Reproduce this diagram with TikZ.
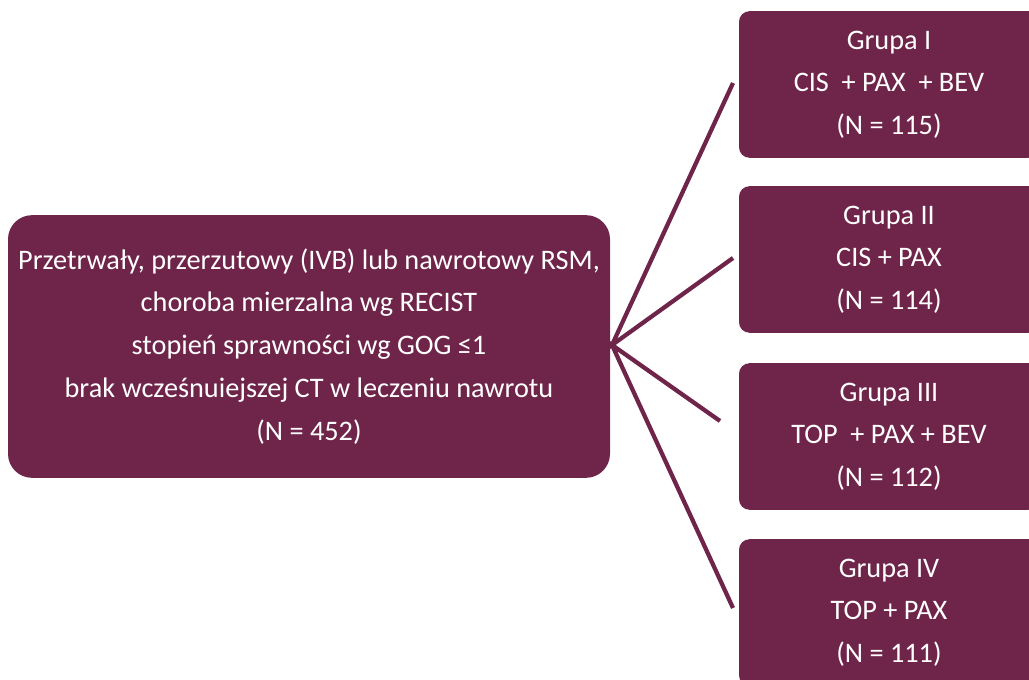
\documentclass[tikz,border=0pt]{standalone}
\usepackage{fontspec}
\setmainfont{Carlito}
\definecolor{maroon}{HTML}{6F2549}
\begin{document}
\begin{tikzpicture}[x=0.75pt,y=-0.75pt,
  box/.style={fill=maroon,text=white,align=center,inner sep=0pt},
  lbox/.style={box,rounded corners=18pt,minimum width=451.5pt,minimum height=197pt,
    font=\fontsize{21.2}{32.2}\selectfont},
  rbox/.style={box,rounded corners=8pt,minimum width=225pt,minimum height=110pt,
    font=\fontsize{21.2}{32}\selectfont},
  link/.style={draw=maroon,line width=3.2pt}]
\useasboundingbox (0,0) rectangle (1029,680);
\clip (0,0) rectangle (1029,680);
\node[lbox] (main) at (309,346.5) {Przetrwały, przerzutowy (IVB) lub nawrotowy RSM,\\choroba mierzalna wg RECIST\\stopień sprawności wg GOG ≤1\\brak wcześnuiejszej CT w leczeniu nawrotu\\(N = 452)};
\node[rbox] (g1) at (889,84.5) {Grupa I\\CIS \ + PAX \ + BEV\\(N = 115)};
\node[rbox] (g2) at (889,259.5) {Grupa II\\CIS + PAX\\(N = 114)};
\node[rbox] (g3) at (889,436.5) {Grupa III\\TOP \ + PAX + BEV\\(N = 112)};
\node[rbox] (g4) at (889,612.5) {Grupa IV\\TOP + PAX\\(N = 111)};
\coordinate (fan) at (612,345);
\coordinate (e1) at (733,83);
\coordinate (e2) at (733,258);
\coordinate (e3) at (720,421);
\coordinate (e4) at (733,608);
\draw[link] (e1) -- (fan) -- (e2);
\draw[link] (e3) -- (fan) -- (e4);
\end{tikzpicture}
\end{document}
